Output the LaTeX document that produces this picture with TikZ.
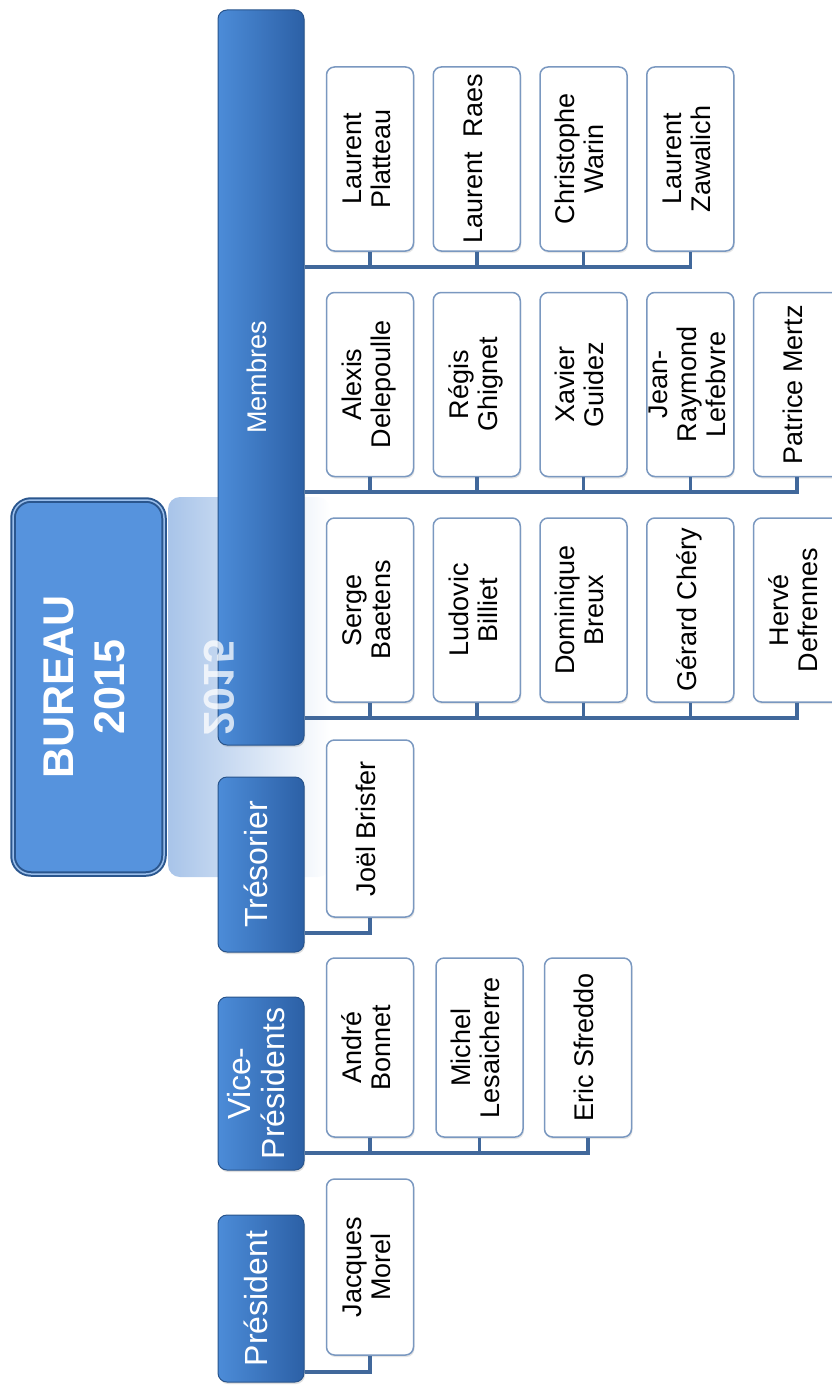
\documentclass[tikz,border=0pt]{standalone}
\usepackage{fontspec}
\setmainfont{Liberation Sans}
\usepackage{graphicx}
\usetikzlibrary{shadows}

\definecolor{headlight}{RGB}{76,140,216}
\definecolor{headdark}{RGB}{44,96,166}
\definecolor{headline}{RGB}{40,84,140}
\definecolor{bureaufill}{RGB}{86,147,221}
\definecolor{bureauline}{RGB}{42,86,142}
\definecolor{ghostblue}{RGB}{168,196,233}
\definecolor{linkblue}{RGB}{65,104,155}
\definecolor{boxline}{RGB}{122,152,192}

\newcommand{\vtext}[1]{\rotatebox{90}{\begin{tabular}{@{}c@{}}#1\end{tabular}}}

\begin{document}
\begin{tikzpicture}[x=1pt, y=-1pt,
		person/.style={draw=boxline, line width=1.5pt, fill=white, rounded corners=8pt,
			minimum width=87pt, minimum height=184pt, inner sep=0pt,
			font=\fontsize{27}{29}\selectfont,
			drop shadow={shadow xshift=1pt, shadow yshift=-2pt, opacity=0.2}},
		head/.style={draw=headline, line width=1pt, left color=headlight, right color=headdark,
			rounded corners=9pt, minimum width=86pt, inner sep=0pt, text=white,
			font=\fontsize{32}{34}\selectfont,
			drop shadow={shadow xshift=1pt, shadow yshift=-2pt, opacity=0.25}},
		link/.style={draw=linkblue, line width=3.5pt}]
		\useasboundingbox (0,0) rectangle (831,1386);

		% reflet du titre
		\shade[left color=ghostblue, right color=white, rounded corners=12pt] (168,497) rectangle (330,877);
		\node[draw=bureauline, line width=2pt, double=bureaufill!60!white, double distance=1.5pt,
			fill=bureaufill, rounded corners=18pt, minimum width=151pt, minimum height=374pt,
			text=white, font=\fontsize{43}{51}\selectfont\bfseries,
			drop shadow={shadow xshift=1pt, shadow yshift=-2pt, opacity=0.25}] (bureau) at (88.5,687) {\vtext{BUREAU\\2015}};

		\node[head, minimum height=735pt, font=\fontsize{27}{29}\selectfont] (membres) at (261,377.5) {\vtext{Membres}};
		\node[text=white, opacity=0.75, font=\fontsize{43}{51}\selectfont\bfseries] (reflet) at (219.5,687.5) {\reflectbox{\rotatebox{90}{2015}}};
		\node[head, minimum height=175pt] (tres) at (261,864.5) {\vtext{Trésorier}};
		\node[head, minimum height=173pt] (vice) at (261,1083.5) {\vtext{Vice-\\Présidents}};
		\node[head, minimum height=167pt] (pres) at (261,1298.5) {\vtext{Président}};

		\node[person] (lp) at (370,159) {\vtext{Laurent\\Platteau}};
		\node[person] (lr) at (476.75,159) {\vtext{Laurent~~Raes}};
		\node[person] (cw) at (583.5,159) {\vtext{Christophe\\Warin}};
		\node[person] (lz) at (690.25,159) {\vtext{Laurent\\Zawalich}};

		\node[person] (ad) at (370,384.5) {\vtext{Alexis\\Delepoulle}};
		\node[person] (rg) at (476.75,384.5) {\vtext{Régis\\Ghignet}};
		\node[person] (xg) at (583.5,384.5) {\vtext{Xavier\\Guidez}};
		\node[person] (jr) at (690.25,384.5) {\vtext{Jean-\\Raymond\\Lefebvre}};
		\node[person] (pm) at (797,384.5) {\vtext{Patrice Mertz}};

		\node[person] (sb) at (370,610) {\vtext{Serge\\Baetens}};
		\node[person] (lb) at (476.75,610) {\vtext{Ludovic\\Billiet}};
		\node[person] (db) at (583.5,610) {\vtext{Dominique\\Breux}};
		\node[person] (gc) at (690.25,610) {\vtext{Gérard Chéry}};
		\node[person] (hd) at (797,610) {\vtext{Hervé\\Defrennes}};

		\node[person, minimum height=177pt] (jb) at (370,828.5) {\vtext{Joël Brisfer}};

		\node[person, minimum height=179pt] (ab) at (370,1047.5) {\vtext{André\\Bonnet}};
		\node[person, minimum height=179pt] (ml) at (479.5,1047.5) {\vtext{Michel\\Lesaicherre}};
		\node[person, minimum height=179pt] (es) at (588,1047.5) {\vtext{Eric Sfreddo}};

		\node[person, minimum height=176pt] (jm) at (370,1267) {\vtext{Jacques\\Morel}};

		\coordinate (bus1) at (0,267);
		\coordinate (bus2) at (0,492);
		\coordinate (bus3) at (0,718);
		\coordinate (bus4) at (0,933);
		\coordinate (bus5) at (0,1153);
		\coordinate (bus6) at (0,1372);

		\draw[link] (membres.east |- bus1) -| (lz);
		\path[link] (lp) edge (lp |- bus1)
			(lr) edge (lr |- bus1)
			(cw) edge (cw |- bus1);

		\draw[link] (membres.east |- bus2) -| (pm);
		\path[link] (ad) edge (ad |- bus2)
			(rg) edge (rg |- bus2)
			(xg) edge (xg |- bus2)
			(jr) edge (jr |- bus2);

		\draw[link] (membres.east |- bus3) -| (hd);
		\path[link] (sb) edge (sb |- bus3)
			(lb) edge (lb |- bus3)
			(db) edge (db |- bus3)
			(gc) edge (gc |- bus3);

		\draw[link] (tres.east |- bus4) -| (jb);

		\draw[link] (vice.east |- bus5) -| (es);
		\path[link] (ab) edge (ab |- bus5)
			(ml) edge (ml |- bus5);

		\draw[link] (pres.east |- bus6) -| (jm);
	\end{tikzpicture}
\end{document}
